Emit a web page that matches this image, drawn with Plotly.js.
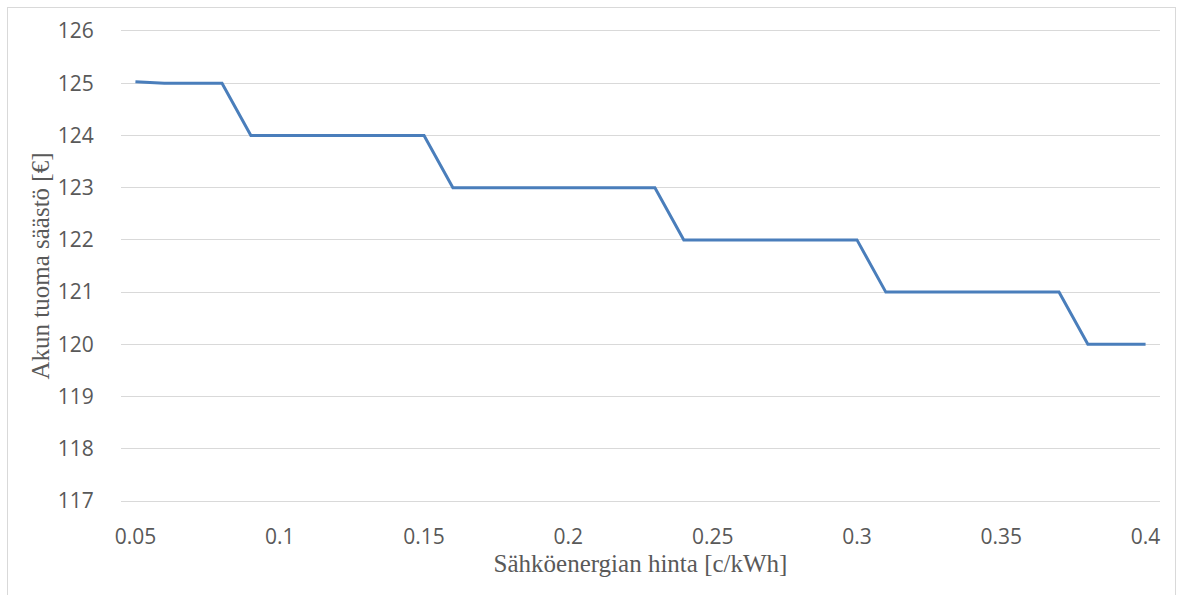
<!DOCTYPE html>
<html>
<head>
<meta charset="utf-8">
<script src="https://cdn.plot.ly/plotly-3.0.1.min.js"></script>
<style>
html,body{margin:0;padding:0;background:#fff;}
#wrap{position:relative;width:1178px;height:595px;}
#chart{width:1178px;height:595px;}
#frame{position:absolute;left:7px;top:7px;width:1169px;height:590px;border:1px solid #d9d9d9;box-sizing:border-box;pointer-events:none;}
</style>
</head>
<body>
<div id="wrap"><div id="chart"></div><div id="frame"></div></div>
<script>
const prices = [0.05,0.06,0.07,0.08,0.09,0.10,0.11,0.12,0.13,0.14,0.15,0.16,0.17,0.18,0.19,0.20,0.21,0.22,0.23,0.24,0.25,0.26,0.27,0.28,0.29,0.30,0.31,0.32,0.33,0.34,0.35,0.36,0.37,0.38,0.39,0.40];
const savings = [125.03,125,125,125,124,124,124,124,124,124,124,123,123,123,123,123,123,123,123,122,122,122,122,122,122,122,121,121,121,121,121,121,121,120,120,120];
const xTicks = [0.05,0.1,0.15,0.2,0.25,0.3,0.35,0.4];
const xTickLabels = ['0.05','0.1','0.15','0.2','0.25','0.3','0.35','0.4'];
const yTicks = [117,118,119,120,121,122,123,124,125,126];

const tickFont = {family:'"Open Sans", "Noto Sans", sans-serif', size:21, color:'#595959'};
const titleFont = {family:'"Liberation Serif", "Times New Roman", serif', size:25, color:'#595959'};

Plotly.newPlot('chart', [{
  x: prices, y: savings, type:'scatter', mode:'lines',
  line:{color:'#4a7ebb', width:3}
}], {
  width:1178, height:595,
  margin:{l:121, r:18, t:31, b:94},
  paper_bgcolor:'#fff', plot_bgcolor:'#fff',
  showlegend:false,
  xaxis:{
    range:[0.045,0.405], tickvals:xTicks, ticktext:xTickLabels,
    showgrid:false, zeroline:false,
    showline:true, mirror:true, linecolor:'#d9d9d9', linewidth:1,
    ticks:'outside', ticklen:17, tickcolor:'rgba(0,0,0,0)',
    tickfont:tickFont,
    title:{text:'Sähköenergian hinta [c/kWh]', font:titleFont, standoff:2}
  },
  yaxis:{
    range:[117,126], tickvals:yTicks,
    showgrid:true, gridcolor:'#d9d9d9', gridwidth:1, zeroline:false, showline:false,
    ticks:'outside', ticklen:22, tickcolor:'rgba(0,0,0,0)',
    tickfont:tickFont,
    title:{text:'Akun tuoma säästö [€]', font:titleFont, standoff:1}
  }
}, {displayModeBar:false, staticPlot:true});
</script>
</body>
</html>
